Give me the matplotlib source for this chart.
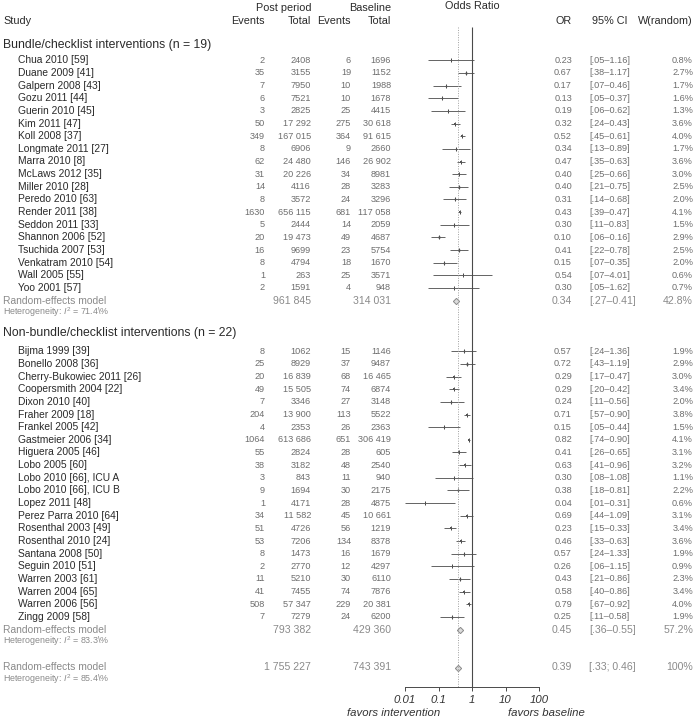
import matplotlib
matplotlib.use("Agg")
import matplotlib.pyplot as plt
import numpy as np

plt.rcParams['font.family'] = ['Liberation Sans', 'DejaVu Sans']
plt.rcParams['mathtext.fontset'] = 'custom'
plt.rcParams['mathtext.rm'] = 'Liberation Sans'
plt.rcParams['mathtext.it'] = 'Liberation Sans:italic'

# ---------------- data ----------------
g1_title = "Bundle/checklist interventions (n = 19)"
g1_names = ["Chua 2010 [59]", "Duane 2009 [41]", "Galpern 2008 [43]", "Gozu 2011 [44]",
            "Guerin 2010 [45]", "Kim 2011 [47]", "Koll 2008 [37]", "Longmate 2011 [27]",
            "Marra 2010 [8]", "McLaws 2012 [35]", "Miller 2010 [28]", "Peredo 2010 [63]",
            "Render 2011 [38]", "Seddon 2011 [33]", "Shannon 2006 [52]", "Tsuchida 2007 [53]",
            "Venkatram 2010 [54]", "Wall 2005 [55]", "Yoo 2001 [57]"]
g1_post_events = [2, 35, 7, 6, 3, 50, 349, 8, 62, 31, 14, 8, 1630, 5, 20, 16, 8, 1, 2]
g1_post_total = [2408, 3155, 7950, 7521, 2825, 17292, 167015, 6906, 24480, 20226, 4116, 3572,
                 656115, 2444, 19473, 9699, 4794, 263, 1591]
g1_base_events = [6, 19, 10, 10, 25, 275, 364, 9, 146, 34, 28, 24, 681, 14, 49, 23, 18, 25, 4]
g1_base_total = [1696, 1152, 1988, 1678, 4415, 30618, 91615, 2660, 26902, 8981, 3283, 3296,
                 117058, 2059, 4687, 5754, 1670, 3571, 948]
g1_or = [0.23, 0.67, 0.17, 0.13, 0.19, 0.32, 0.52, 0.34, 0.47, 0.40, 0.40, 0.31, 0.43, 0.30,
         0.10, 0.41, 0.15, 0.54, 0.30]
g1_lo = [.05, .38, .07, .05, .06, .24, .45, .13, .35, .25, .21, .14, .39, .11, .06, .22, .07, .07, .05]
g1_hi = [1.16, 1.17, 0.46, 0.37, 0.62, 0.43, 0.61, 0.89, 0.63, 0.66, 0.75, 0.68, 0.47, 0.83,
         0.16, 0.78, 0.35, 4.01, 1.62]
g1_w = [0.8, 2.7, 1.7, 1.6, 1.3, 3.6, 4.0, 1.7, 3.6, 3.0, 2.5, 2.0, 4.1, 1.5, 2.9, 2.5, 2.0, 0.6, 0.7]
g1_summary = dict(post_total=961845, base_total=314031, or_=0.34, lo=.27, hi=0.41, w="42.8%",
                  het="71.4%")

g2_title = "Non-bundle/checklist interventions (n = 22)"
g2_names = ["Bijma 1999 [39]", "Bonello 2008 [36]", "Cherry-Bukowiec 2011 [26]",
            "Coopersmith 2004 [22]", "Dixon 2010 [40]", "Fraher 2009 [18]", "Frankel 2005 [42]",
            "Gastmeier 2006 [34]", "Higuera 2005 [46]", "Lobo 2005 [60]", "Lobo 2010 [66], ICU A",
            "Lobo 2010 [66], ICU B", "Lopez 2011 [48]", "Perez Parra 2010 [64]",
            "Rosenthal 2003 [49]", "Rosenthal 2010 [24]", "Santana 2008 [50]", "Seguin 2010 [51]",
            "Warren 2003 [61]", "Warren 2004 [65]", "Warren 2006 [56]", "Zingg 2009 [58]"]
g2_post_events = [8, 25, 20, 49, 7, 204, 4, 1064, 55, 38, 3, 9, 1, 34, 51, 53, 8, 2, 11, 41, 508, 7]
g2_post_total = [1062, 8929, 16839, 15505, 3346, 13900, 2353, 613686, 2824, 3182, 843, 1694, 4171,
                 11582, 4726, 7206, 1473, 2770, 5210, 7455, 57347, 7279]
g2_base_events = [15, 37, 68, 74, 27, 113, 26, 651, 28, 48, 11, 30, 28, 45, 56, 134, 16, 12, 30,
                  74, 229, 24]
g2_base_total = [1146, 9487, 16465, 6874, 3148, 5522, 2363, 306419, 605, 2540, 940, 2175, 4875,
                 10661, 1219, 8378, 1679, 4297, 6110, 7876, 20381, 6200]
g2_or = [0.57, 0.72, 0.29, 0.29, 0.24, 0.71, 0.15, 0.82, 0.41, 0.63, 0.30, 0.38, 0.04, 0.69, 0.23,
         0.46, 0.57, 0.26, 0.43, 0.58, 0.79, 0.25]
g2_lo = [.24, .43, .17, .20, .11, .57, .05, .74, .26, .41, .08, .18, .01, .44, .15, .33, .24, .06,
         .21, .40, .67, .11]
g2_hi = [1.36, 1.19, 0.47, 0.42, 0.56, 0.90, 0.44, 0.90, 0.65, 0.96, 1.08, 0.81, 0.31, 1.09, 0.33,
         0.63, 1.33, 1.15, 0.86, 0.86, 0.92, 0.58]
g2_w = [1.9, 2.9, 3.0, 3.4, 2.0, 3.8, 1.5, 4.1, 3.1, 3.2, 1.1, 2.2, 0.6, 3.1, 3.4, 3.6, 1.9, 0.9,
        2.3, 3.4, 4.0, 1.9]
g2_summary = dict(post_total=793382, base_total=429360, or_=0.45, lo=.36, hi=0.55, w="57.2%",
                  het="83.3%")

overall = dict(post_total=1755227, base_total=743391, or_=0.39, lo=.33, hi=0.46, w="100%",
               het="85.4%")

tick_values = [0.01, 0.1, 1, 10, 100]
tick_labels = ["0.01", "0.1", "1", "10", "100"]

# ---------------- layout (pixels) ----------------
W, H = 695, 719
Y0, STEP = 60.3, 12.65
def ry(r):
    return Y0 + r * STEP

X_NAME, X_GROUP = 18, 3
X_PE, X_PT, X_BE, X_BT = 265, 311, 351, 391
X_OR, X_CI, X_W = 572, 589, 693
AXIS_Y = 687.2
PX_ONE, PX_DEC = 472.0, 33.5
FX0, FX1 = 378, 565

C_NAME = "#2a2a2a"
C_NUM = "#6e6e6e"
C_SUM = "#8a8a8a"
C_LINE = "#4a4a4a"

fig = plt.figure(figsize=(W / 100, H / 100), dpi=100)
tax = fig.add_axes([0, 0, 1, 1])
tax.set_xlim(0, W)
tax.set_ylim(H, 0)
tax.axis("off")

fax = fig.add_axes([FX0 / W, (H - AXIS_Y) / H, (FX1 - FX0) / W, AXIS_Y / H])
fax.patch.set_alpha(0)
fax.set_xscale("log")
fax.set_xlim(10 ** ((FX0 - PX_ONE) / PX_DEC), 10 ** ((FX1 - PX_ONE) / PX_DEC))
fax.set_ylim(AXIS_Y, 0)
for s in ["top", "left", "right"]:
    fax.spines[s].set_visible(False)
fax.spines["bottom"].set_bounds(tick_values[0], tick_values[-1])
fax.spines["bottom"].set_color(C_LINE)
fax.spines["bottom"].set_linewidth(0.7)
fax.set_yticks([])
fax.set_xticks(tick_values)
fax.set_xticklabels(tick_labels, fontsize=8.2, fontstyle="italic", color="#333333")
fax.xaxis.set_minor_locator(matplotlib.ticker.NullLocator())
fax.tick_params(axis="x", length=3.2, width=0.7, color=C_LINE, pad=2.5)

def fmt_n(n):
    s = str(n)
    if n >= 10000:
        s = f"{n:,}".replace(",", " ")
    return s

def fmt_ci(lo, hi, sep="–"):
    return "[" + f"{lo:.2f}"[1:] + sep + f"{hi:.2f}]"

# headers
hdr = dict(fontsize=7.8, color=C_NAME, va="center")
tax.text(X_GROUP, 21, "Study", ha="left", **hdr)
tax.text(X_PT, 8, "Post period", ha="right", **hdr)
tax.text(X_PE, 21, "Events", ha="right", **hdr)
tax.text(X_PT, 21, "Total", ha="right", **hdr)
tax.text(X_BT, 8, "Baseline", ha="right", **hdr)
tax.text(X_BE, 21, "Events", ha="right", **hdr)
tax.text(X_BT, 21, "Total", ha="right", **hdr)
tax.text(PX_ONE, 6, "Odds Ratio", ha="center", **hdr)
tax.text(X_OR, 21, "OR", ha="right", **hdr)
tax.text(628, 21, "95% CI", ha="right", **hdr)
tax.text(X_W, 21, "W(random)", ha="right", **hdr)

def draw_summary(y, summ, sep="–"):
    tax.text(X_GROUP, y, "Random-effects model", ha="left", va="center", fontsize=7.4, color=C_SUM)
    tax.text(X_PT, y, fmt_n(summ["post_total"]), ha="right", va="center", fontsize=7.6, color=C_SUM)
    tax.text(X_BT, y, fmt_n(summ["base_total"]), ha="right", va="center", fontsize=7.6, color=C_SUM)
    tax.text(X_OR, y, f"{summ['or_']:.2f}", ha="right", va="center", fontsize=7.6, color=C_SUM)
    tax.text(X_CI, y, fmt_ci(summ["lo"], summ["hi"], sep), ha="left", va="center", fontsize=7.6, color=C_SUM)
    tax.text(X_W, y, summ["w"], ha="right", va="center", fontsize=7.6, color=C_SUM)
    tax.text(X_GROUP, y + 11.5, "Heterogeneity: $I^2$ = " + summ["het"].replace("%", r"\%"),
             ha="left", va="center", fontsize=6.4, color=C_SUM)
    fax.plot(summ["or_"], y, marker="D", ms=3.2, mfc="#dcdcdc", mec="#8a8a8a", mew=0.7)

def draw_group(title, title_y, r0, names, pe, pt, be, bt, ors, los, his, ws, summ):
    tax.text(X_GROUP, title_y, title, ha="left", va="center", fontsize=8.8, color=C_NAME)
    ys = [ry(r0 + i) for i in range(len(names))]
    for i, y in enumerate(ys):
        tax.text(X_NAME, y, names[i], ha="left", va="center", fontsize=7.4, color=C_NAME)
        tax.text(X_PE, y, fmt_n(pe[i]), ha="right", va="center", fontsize=6.6, color=C_NUM)
        tax.text(X_PT, y, fmt_n(pt[i]), ha="right", va="center", fontsize=6.6, color=C_NUM)
        tax.text(X_BE, y, fmt_n(be[i]), ha="right", va="center", fontsize=6.6, color=C_NUM)
        tax.text(X_BT, y, fmt_n(bt[i]), ha="right", va="center", fontsize=6.6, color=C_NUM)
        tax.text(X_OR, y, f"{ors[i]:.2f}", ha="right", va="center", fontsize=6.6, color=C_NUM)
        tax.text(X_CI, y, fmt_ci(los[i], his[i]), ha="left", va="center", fontsize=6.6, color=C_NUM)
        tax.text(X_W, y, f"{ws[i]:.1f}%", ha="right", va="center", fontsize=6.6, color=C_NUM)
    fax.hlines(ys, los, his, color=C_LINE, lw=0.6)
    fax.plot(ors, ys, linestyle="none", marker="|", ms=3.0, mew=0.7, color="#444444")
    for i, y in enumerate(ys):
        fax.plot(ors[i], y, marker="s", ms=0.5 + 0.32 * ws[i], color="#555555", mew=0)
    draw_summary(ry(r0 + len(names)), summ)

draw_group(g1_title, 45, 0, g1_names, g1_post_events, g1_post_total, g1_base_events,
           g1_base_total, g1_or, g1_lo, g1_hi, g1_w, g1_summary)
draw_group(g2_title, 333, 23, g2_names, g2_post_events, g2_post_total, g2_base_events,
           g2_base_total, g2_or, g2_lo, g2_hi, g2_w, g2_summary)
draw_summary(ry(48), overall, sep="; ")

# reference lines
fax.vlines(1, 27, AXIS_Y, color=C_LINE, lw=0.8)
fax.vlines(overall["or_"], 27, AXIS_Y, color="#a0a0a0", lw=0.7, linestyles=(0, (1, 1.5)))

tax.text(394, 713, "favors intervention", ha="center", va="center", fontsize=8.2,
         fontstyle="italic", color="#333333")
tax.text(546, 713, "favors baseline", ha="center", va="center", fontsize=8.2,
         fontstyle="italic", color="#333333")

fig.savefig("out.png", dpi=100)
